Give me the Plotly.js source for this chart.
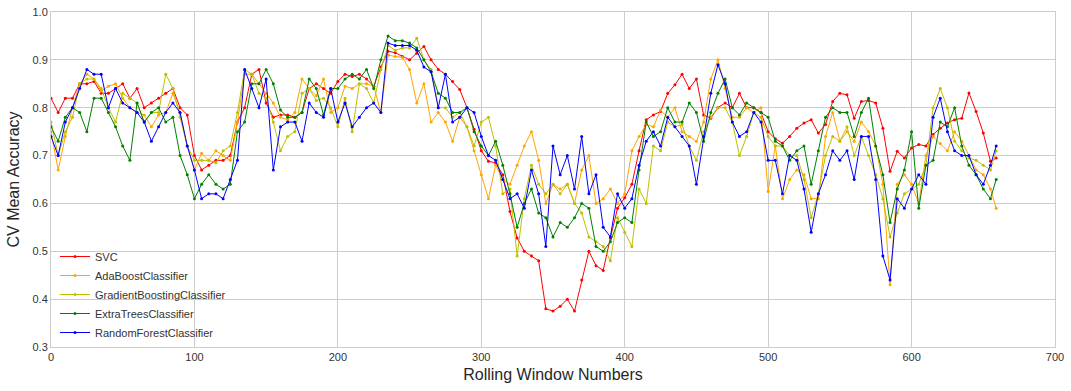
<!DOCTYPE html>
<html>
<head>
<meta charset="utf-8">
<script src="https://cdn.plot.ly/plotly-3.0.1.min.js"></script>
<style>html,body{margin:0;padding:0;background:#fff;}#chart{width:1071px;height:391px;}</style>
</head>
<body>
<div id="chart"></div>
<script>
const windows = [0,5,10,15,20,25,30,35,40,45,50,55,60,65,70,75,80,85,90,95,
100,105,110,115,120,125,130,135,140,145,150,155,160,165,170,175,180,185,190,195,
200,205,210,215,220,225,230,235,240,245,250,255,260,265,270,275,280,285,290,295,
300,305,310,315,320,325,330,335,340,345,350,355,360,365,370,375,380,385,390,395,
400,405,410,415,420,425,430,435,440,445,450,455,460,465,470,475,480,485,490,495,
500,505,510,515,520,525,530,535,540,545,550,555,560,565,570,575,580,585,590,595,
600,605,610,615,620,625,630,635,640,645,650,655,659];

const svc = [0.82,0.79,0.82,0.82,0.85,0.85,0.855,0.83,0.83,0.84,
0.85,0.82,0.84,0.80,0.81,0.82,0.83,0.84,0.80,0.785,
0.70,0.67,0.68,0.69,0.69,0.70,0.77,0.80,0.87,0.88,
0.81,0.78,0.785,0.785,0.78,0.79,0.84,0.85,0.84,0.83,
0.855,0.87,0.865,0.87,0.86,0.845,0.885,0.918,0.915,0.907,
0.90,0.914,0.928,0.90,0.88,0.87,0.855,0.838,0.80,0.755,
0.71,0.688,0.685,0.66,0.583,0.528,0.50,0.49,0.48,0.38,
0.375,0.385,0.40,0.375,0.44,0.50,0.47,0.46,0.528,0.59,
0.612,0.64,0.71,0.775,0.785,0.792,0.83,0.848,0.87,0.84,
0.86,0.785,0.778,0.80,0.81,0.80,0.83,0.80,0.80,0.79,
0.75,0.735,0.726,0.74,0.757,0.768,0.775,0.747,0.765,0.813,
0.83,0.827,0.778,0.813,0.815,0.81,0.757,0.667,0.709,0.695,
0.716,0.723,0.72,0.744,0.757,0.768,0.775,0.778,0.831,0.792,
0.747,0.688,0.695];

const adaBoost = [0.75,0.67,0.74,0.80,0.85,0.87,0.86,0.835,0.845,0.85,
0.82,0.80,0.79,0.785,0.76,0.785,0.79,0.83,0.79,0.72,
0.67,0.705,0.69,0.71,0.70,0.69,0.77,0.87,0.87,0.85,
0.83,0.81,0.78,0.775,0.79,0.86,0.84,0.825,0.86,0.79,
0.80,0.845,0.84,0.85,0.85,0.845,0.79,0.91,0.907,0.905,
0.88,0.81,0.85,0.77,0.79,0.77,0.73,0.78,0.76,0.71,
0.66,0.61,0.68,0.65,0.64,0.68,0.72,0.75,0.69,0.60,
0.64,0.63,0.64,0.60,0.67,0.70,0.60,0.61,0.63,0.60,
0.62,0.71,0.74,0.765,0.76,0.795,0.78,0.80,0.75,0.74,
0.73,0.77,0.86,0.90,0.84,0.78,0.78,0.80,0.79,0.80,
0.625,0.72,0.61,0.65,0.67,0.66,0.61,0.61,0.74,0.79,
0.73,0.75,0.73,0.77,0.75,0.72,0.64,0.43,0.64,0.66,
0.64,0.60,0.70,0.74,0.725,0.71,0.75,0.73,0.70,0.67,
0.66,0.63,0.59];

const gradientBoosting = [0.77,0.70,0.75,0.78,0.85,0.86,0.86,0.84,0.80,0.77,
0.83,0.82,0.81,0.77,0.79,0.79,0.87,0.84,0.78,0.72,
0.69,0.69,0.69,0.685,0.71,0.72,0.79,0.88,0.87,0.83,
0.82,0.77,0.71,0.74,0.75,0.83,0.84,0.815,0.82,0.80,
0.76,0.82,0.75,0.85,0.84,0.81,0.88,0.93,0.92,0.925,
0.925,0.945,0.90,0.88,0.80,0.80,0.78,0.79,0.76,0.72,
0.77,0.78,0.72,0.62,0.63,0.49,0.61,0.68,0.64,0.62,
0.64,0.62,0.64,0.60,0.58,0.53,0.52,0.51,0.48,0.57,
0.54,0.51,0.63,0.60,0.72,0.71,0.77,0.76,0.765,0.72,
0.69,0.75,0.78,0.80,0.80,0.77,0.70,0.74,0.79,0.78,
0.74,0.72,0.72,0.70,0.70,0.65,0.57,0.62,0.70,0.74,
0.73,0.76,0.70,0.74,0.70,0.66,0.61,0.53,0.58,0.62,
0.63,0.64,0.68,0.80,0.84,0.80,0.73,0.71,0.695,0.69,
0.68,0.67,0.71];

const extraTrees = [0.76,0.73,0.78,0.80,0.79,0.75,0.82,0.82,0.79,0.76,
0.72,0.69,0.81,0.77,0.79,0.80,0.77,0.78,0.70,0.66,
0.61,0.64,0.66,0.64,0.63,0.64,0.75,0.77,0.85,0.85,
0.88,0.85,0.795,0.78,0.78,0.79,0.86,0.84,0.785,0.84,
0.84,0.86,0.87,0.86,0.88,0.84,0.90,0.95,0.94,0.94,
0.935,0.925,0.90,0.875,0.83,0.82,0.79,0.79,0.80,0.75,
0.72,0.70,0.73,0.68,0.62,0.55,0.60,0.63,0.58,0.57,
0.53,0.56,0.55,0.57,0.60,0.59,0.51,0.50,0.52,0.56,
0.57,0.56,0.67,0.77,0.74,0.75,0.80,0.77,0.77,0.81,
0.79,0.73,0.79,0.83,0.86,0.80,0.785,0.81,0.80,0.79,
0.78,0.73,0.72,0.69,0.71,0.72,0.64,0.71,0.78,0.80,
0.79,0.79,0.74,0.79,0.82,0.72,0.66,0.56,0.63,0.67,
0.75,0.59,0.68,0.69,0.77,0.76,0.80,0.72,0.68,0.66,
0.63,0.61,0.65];

const randomForest = [0.74,0.70,0.77,0.80,0.84,0.88,0.87,0.87,0.80,0.84,
0.81,0.80,0.79,0.77,0.73,0.76,0.79,0.81,0.79,0.72,
0.67,0.61,0.62,0.62,0.61,0.65,0.69,0.88,0.84,0.80,
0.86,0.67,0.76,0.77,0.77,0.73,0.81,0.79,0.78,0.84,
0.77,0.81,0.76,0.78,0.80,0.81,0.79,0.935,0.93,0.93,
0.93,0.92,0.885,0.875,0.80,0.87,0.77,0.78,0.80,0.79,
0.74,0.70,0.69,0.65,0.61,0.62,0.59,0.67,0.62,0.51,
0.72,0.66,0.70,0.63,0.74,0.62,0.66,0.55,0.53,0.62,
0.59,0.61,0.68,0.73,0.75,0.72,0.78,0.76,0.74,0.72,
0.64,0.74,0.83,0.89,0.85,0.77,0.74,0.75,0.79,0.77,
0.69,0.69,0.62,0.70,0.69,0.63,0.54,0.62,0.66,0.71,
0.69,0.71,0.65,0.74,0.74,0.65,0.49,0.44,0.61,0.59,
0.63,0.66,0.64,0.78,0.82,0.75,0.71,0.70,0.70,0.66,
0.64,0.68,0.72];

const seriesNames = ['SVC','AdaBoostClassifier','GradientBoostingClassifier','ExtraTreesClassifier','RandomForestClassifier'];
const seriesValues = [svc, adaBoost, gradientBoosting, extraTrees, randomForest];
const seriesColors = ['#ff0000','#ffa500','#bfbf00','#008000','#0000ff'];

const traces = seriesNames.map((name, i) => ({
  type: 'scatter',
  mode: 'lines+markers',
  name: name,
  x: windows,
  y: seriesValues[i],
  line: {color: seriesColors[i], width: 1},
  marker: {color: seriesColors[i], size: 3}
}));

const layout = {
  width: 1071,
  height: 391,
  margin: {l: 51, r: 16, t: 12, b: 44},
  paper_bgcolor: '#ffffff',
  plot_bgcolor: '#ffffff',
  font: {family: 'Liberation Sans, Arial, sans-serif', size: 11, color: '#333333'},
  showlegend: true,
  legend: {
    x: 0.004, y: 0.0, xanchor: 'left', yanchor: 'bottom',
    bgcolor: 'rgba(0,0,0,0)', font: {size: 11, color: '#333333'}
  },
  xaxis: {
    range: [0, 700], dtick: 100, tick0: 0,
    showgrid: true, gridcolor: '#cccccc', gridwidth: 1,
    zeroline: false, showline: true, mirror: true, linecolor: '#cccccc', linewidth: 1,
    ticks: '', tickfont: {size: 11, color: '#333333'},
    title: {text: 'Rolling Window Numbers', font: {size: 16, color: '#262626'}, standoff: 6}
  },
  yaxis: {
    range: [0.3, 1.0], dtick: 0.1, tick0: 0.3, tickformat: '.1f',
    showgrid: true, gridcolor: '#cccccc', gridwidth: 1,
    zeroline: false, showline: true, mirror: true, linecolor: '#cccccc', linewidth: 1,
    ticks: '', tickfont: {size: 11, color: '#333333'},
    title: {text: 'CV Mean Accuracy', font: {size: 16, color: '#262626'}, standoff: 8}
  }
};

Plotly.newPlot('chart', traces, layout, {displayModeBar: false, staticPlot: true});
</script>
</body>
</html>
